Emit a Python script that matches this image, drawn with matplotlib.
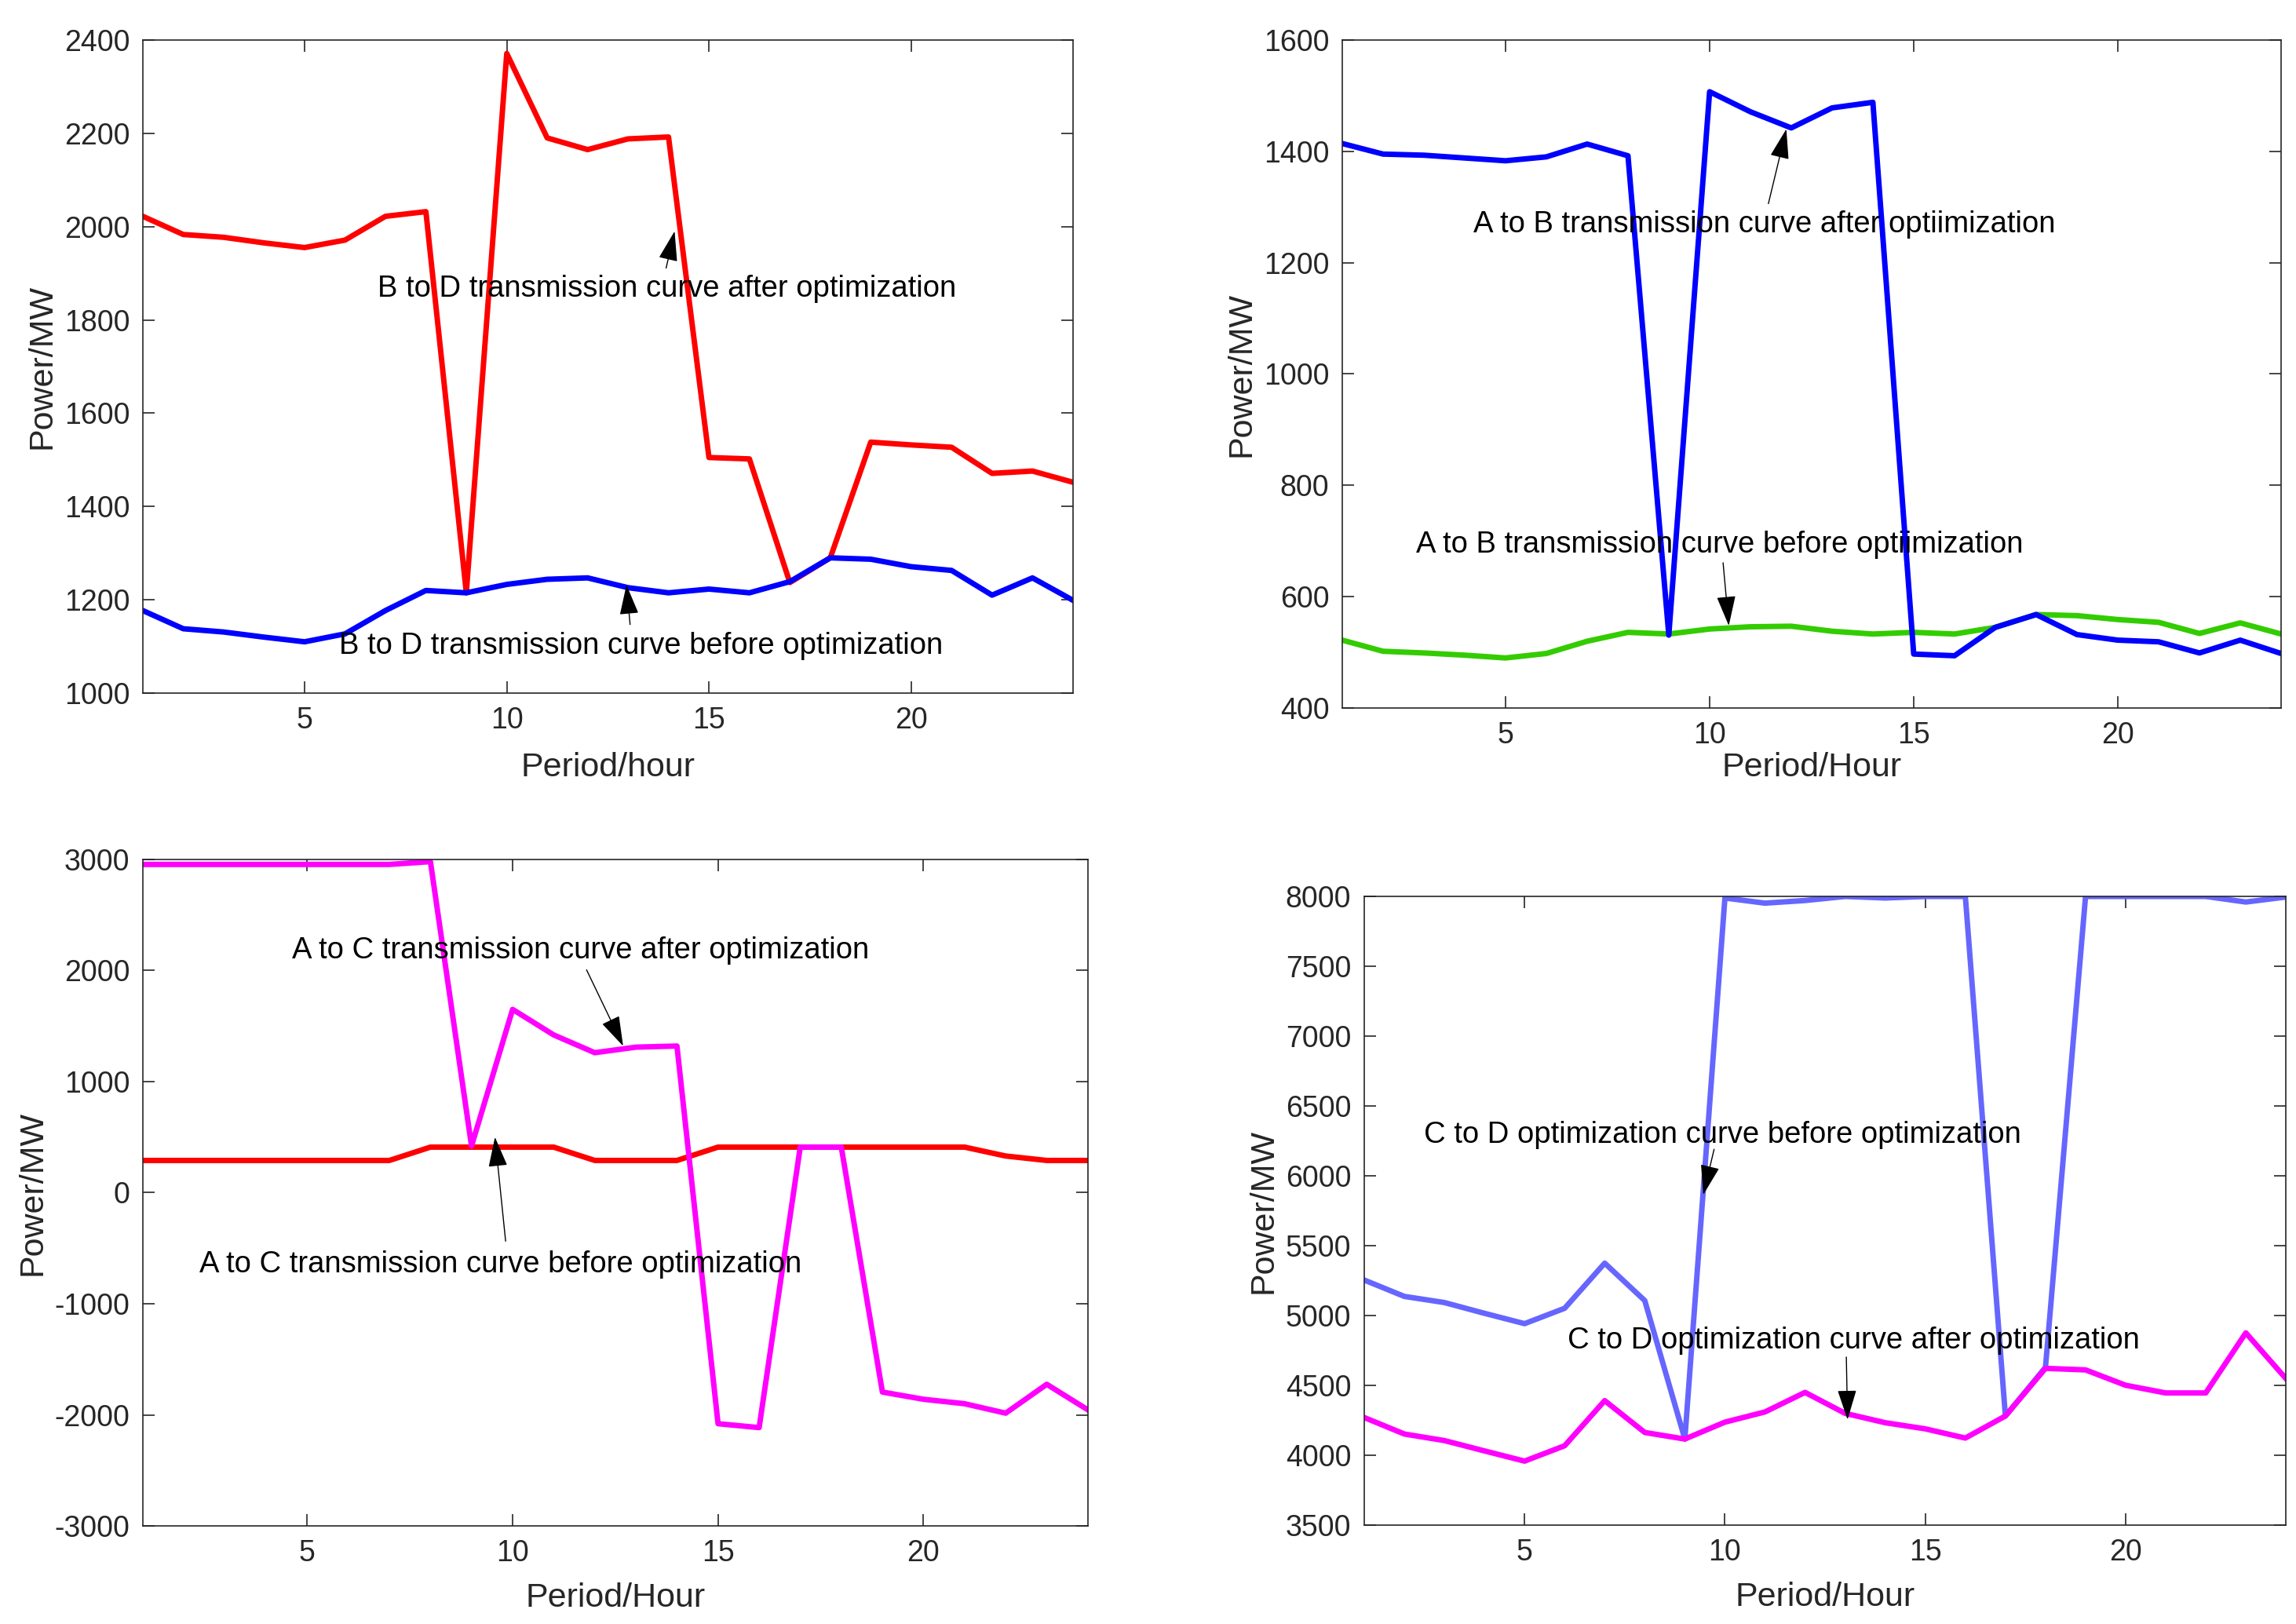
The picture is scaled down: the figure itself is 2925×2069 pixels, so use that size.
import matplotlib
matplotlib.use("Agg")
import matplotlib.pyplot as plt
import numpy as np

plt.rcParams["font.family"] = ["Liberation Sans", "DejaVu Sans"]
plt.rcParams["axes.unicode_minus"] = False

hours = np.arange(1, 25)

# B to D
bd_after = [2022, 1983, 1977, 1965, 1955, 1971, 2022, 2032, 1215, 2371, 2190, 2165,
            2188, 2192, 1505, 1502, 1237, 1290, 1538, 1532, 1527, 1471, 1476, 1452]
bd_before = [1177, 1138, 1131, 1120, 1110, 1127, 1177, 1220, 1215, 1233, 1244, 1247,
             1226, 1215, 1223, 1215, 1239, 1290, 1287, 1271, 1263, 1210, 1247, 1199]

# A to B
ab_after = [1414, 1395, 1393, 1388, 1383, 1390, 1413, 1392, 531, 1507, 1471, 1442,
            1478, 1488, 497, 494, 545, 568, 532, 522, 519, 499, 522, 498]
ab_before = [522, 502, 499, 495, 490, 498, 520, 536, 533, 542, 546, 547,
             538, 533, 536, 533, 545, 568, 566, 559, 554, 534, 553, 533]

# A to C
ac_after = [2955, 2955, 2955, 2955, 2955, 2955, 2955, 2980, 420, 1650, 1420, 1260,
            1310, 1320, -2080, -2115, 410, 410, -1795, -1860, -1900, -1985, -1725, -1955]
ac_before = [290, 290, 290, 290, 290, 290, 290, 410, 410, 410, 410, 290,
             290, 290, 410, 410, 410, 410, 410, 410, 410, 330, 290, 290]

# C to D
cd_before = [5254, 5137, 5093, 5016, 4942, 5052, 5375, 5107, 4116, 7989, 7952, 7971,
             8000, 7989, 8000, 8000, 4281, 4630, 8000, 8000, 8000, 8000, 7960, 7996]
cd_after = [4270, 4152, 4105, 4031, 3958, 4068, 4391, 4163, 4116, 4237, 4310, 4450,
            4300, 4233, 4189, 4123, 4281, 4622, 4611, 4501, 4446, 4446, 4876, 4549]

tick_fs = 27
label_fs = 31
note_fs = 27.5
lw = 5.0
axcol = "#262626"

fig = plt.figure(figsize=(29.25, 20.69), dpi=100)


def style_axes(ax, ylim, yticks, xlabel, xpad=14):
    ax.set_xlim(1, 24)
    ax.set_ylim(*ylim)
    ax.set_xticks([5, 10, 15, 20])
    ax.set_yticks(yticks)
    ax.tick_params(direction="in", top=True, right=True, length=11, width=1.2,
                   labelsize=tick_fs, colors=axcol, pad=12)
    for s in ax.spines.values():
        s.set_color(axcol)
        s.set_linewidth(1.2)
    ax.set_xlabel(xlabel, fontsize=label_fs, color=axcol, labelpad=xpad)
    ax.set_ylabel("Power/MW", fontsize=label_fs, color=axcol, labelpad=6)


def note(ax, text, txy, tail, tip):
    ax.text(txy[0], txy[1], text, fontsize=note_fs, ha="left", va="center")
    ax.annotate("", xy=tip, xytext=tail,
                arrowprops=dict(arrowstyle="-|>,head_length=1.1,head_width=0.35",
                                color="k", lw=1.0, mutation_scale=22,
                                shrinkA=0, shrinkB=0))


# panel 1: B to D
ax1 = fig.add_axes([0.0622, 0.5732, 0.4051, 0.4022])
ax1.plot(hours, bd_after, color="#FF0000", lw=lw)
ax1.plot(hours, bd_before, color="#0000FF", lw=lw)
style_axes(ax1, (1000, 2400), np.arange(1000, 2401, 200), "Period/hour", xpad=16)
note(ax1, "B to D transmission curve after optimization", (6.8, 1867), (13.94, 1911), (14.15, 1990))
note(ax1, "B to D transmission curve before optimization", (5.85, 1101), (13.05, 1147), (12.96, 1232))

# panel 2: A to B
ax2 = fig.add_axes([0.5846, 0.5640, 0.4089, 0.4114])
ax2.plot(hours, ab_before, color="#33CC00", lw=lw)
ax2.plot(hours, ab_after, color="#0000FF", lw=lw)
style_axes(ax2, (400, 1600), np.arange(400, 1601, 200), "Period/Hour", xpad=2)
note(ax2, "A to B transmission curve after optiimization", (4.22, 1268), (11.44, 1306), (11.88, 1440))
note(ax2, "A to B transmission curve before optiimization", (2.81, 694), (10.33, 661), (10.47, 548))

# panel 3: A to C
ax3 = fig.add_axes([0.0622, 0.0604, 0.4116, 0.4104])
ax3.plot(hours, ac_before, color="#FF0000", lw=lw)
ax3.plot(hours, ac_after, color="#FF00FF", lw=lw)
style_axes(ax3, (-3000, 3000), np.arange(-3000, 3001, 1000), "Period/Hour")
note(ax3, "A to C transmission curve after optimization", (4.63, 2178), (11.8, 2006), (12.69, 1320))
note(ax3, "A to C transmission curve before optimization", (2.37, -646), (9.83, -437), (9.57, 500))

# panel 4: C to D
ax4 = fig.add_axes([0.5942, 0.0609, 0.4014, 0.3871])
ax4.plot(hours, cd_before, color="#6666FF", lw=lw)
ax4.plot(hours, cd_after, color="#FF00FF", lw=lw)
style_axes(ax4, (3500, 8000), np.arange(3500, 8001, 500), "Period/Hour")
note(ax4, "C to D optimization curve before optimization", (2.48, 6293), (9.73, 6190), (9.46, 5865))
note(ax4, "C to D optimization curve after optimization", (6.08, 4821), (13.03, 4703), (13.06, 4255))

fig.savefig("out.png", dpi=100)
